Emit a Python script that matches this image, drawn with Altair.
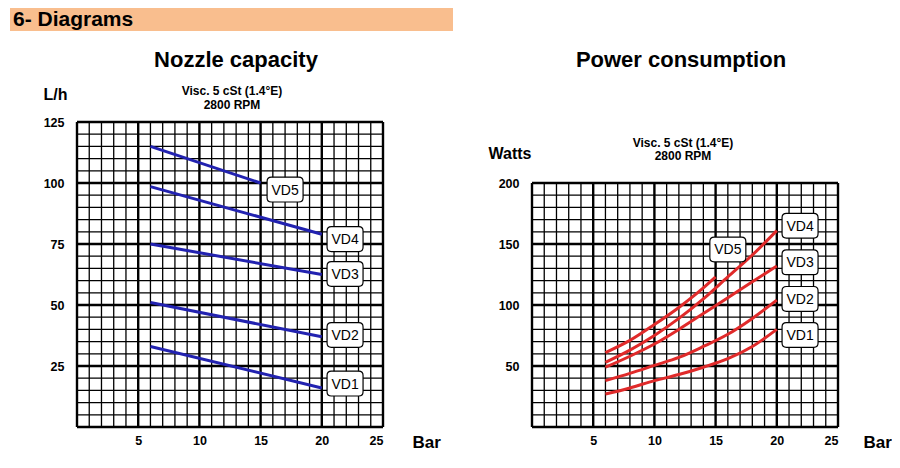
import altair as alt
import pandas as pd

FONT = "Liberation Sans"
BLUE = "#2222B0"
RED = "#E02A2A"
HEADER_FILL = "#F9BE8E"

# ---------------- grid / tick values ----------------
bar_grid = list(range(0, 26))            # 1 bar minor grid
lh_grid = list(range(0, 130, 5))         # 5 L/h minor grid
w_grid = list(range(0, 210, 10))         # 10 W minor grid
bar_labels = [5, 10, 15, 20, 25]
lh_labels = [25, 50, 75, 100, 125]
w_labels = [50, 100, 150, 200]

# ---------------- Nozzle capacity (L/h vs Bar) ----------------
noz_vd1_bar = [6, 20]
noz_vd1_lh = [33, 16]
noz_vd2_bar = [6, 20]
noz_vd2_lh = [51, 37]
noz_vd3_bar = [6, 20]
noz_vd3_lh = [75, 62.5]
noz_vd4_bar = [6, 20]
noz_vd4_lh = [98.5, 79]
noz_vd5_bar = [6, 15]
noz_vd5_lh = [115, 100]

noz_label_names = ["VD1", "VD2", "VD3", "VD4", "VD5"]
noz_label_bar = [21.9, 21.9, 21.9, 21.9, 17.0]
noz_label_lh = [17.8, 37.7, 62.7, 77.0, 97.3]

# ---------------- Power consumption (Watts vs Bar) ----------------
pow_vd1_bar = [6, 8, 10, 12, 14, 16, 18, 20]
pow_vd1_w = [27, 32, 38, 43, 49, 56, 66, 80]
pow_vd2_bar = [6, 8, 10, 12, 14, 16, 18, 20]
pow_vd2_w = [38, 44, 50.5, 57, 66, 76, 89, 104]
pow_vd3_bar = [6, 8, 10, 12, 14, 16, 18, 20]
pow_vd3_w = [49, 58, 68, 80, 93, 106, 119, 132]
pow_vd4_bar = [6, 8, 10, 12, 14, 16, 18, 20]
pow_vd4_w = [53, 63, 75, 89, 105, 123, 141, 161]
pow_vd5_bar = [6, 8, 10, 12, 14, 15]
pow_vd5_w = [61, 71, 84, 98, 114, 123]

pow_label_names = ["VD1", "VD2", "VD3", "VD4", "VD5"]
pow_label_bar = [21.9, 21.9, 21.9, 21.9, 16.0]
pow_label_w = [75.4, 105, 135, 165, 145.5]


def series_frame(items):
    frames = [pd.DataFrame({"series": name, "bar": b, "val": v}) for name, b, v in items]
    return pd.concat(frames, ignore_index=True)


noz_df = series_frame([
    ("VD1", noz_vd1_bar, noz_vd1_lh), ("VD2", noz_vd2_bar, noz_vd2_lh),
    ("VD3", noz_vd3_bar, noz_vd3_lh), ("VD4", noz_vd4_bar, noz_vd4_lh),
    ("VD5", noz_vd5_bar, noz_vd5_lh)])
pow_df = series_frame([
    ("VD1", pow_vd1_bar, pow_vd1_w), ("VD2", pow_vd2_bar, pow_vd2_w),
    ("VD3", pow_vd3_bar, pow_vd3_w), ("VD4", pow_vd4_bar, pow_vd4_w),
    ("VD5", pow_vd5_bar, pow_vd5_w)])
noz_lab = pd.DataFrame({"label": noz_label_names, "bar": noz_label_bar, "val": noz_label_lh})
pow_lab = pd.DataFrame({"label": pow_label_names, "bar": pow_label_bar, "val": pow_label_w})

# rounded box symbol (path in [-1, 1] square)
BOX = ("M -0.76,-0.69 L 0.76,-0.69 Q 1,-0.69 1,-0.45 L 1,0.45 Q 1,0.69 0.76,0.69 "
       "L -0.76,0.69 Q -1,0.69 -1,0.45 L -1,-0.45 Q -1,-0.69 -0.76,-0.69 Z")

one = pd.DataFrame({"k": [0]})
sw_scale = alt.Scale(domain=["minor", "major"], range=[1.3, 2.4])
xs = alt.Scale(domain=[0, 25], nice=False, zero=True)


def text_layer(txt, x, y, size, weight="bold", align="left"):
    return alt.Chart(one).mark_text(
        font=FONT, fontSize=size, fontWeight=weight, align=align,
        baseline="alphabetic", color="black"
    ).encode(x=alt.value(x), y=alt.value(y), text=alt.value(txt))


def panel(lines_df, color, interp, lab_df, ys, gy, gy_major, gy_max, yvals,
          ytitle, ytx, yty, bar_x, extra):
    vert = pd.DataFrame({"bar": bar_grid})
    vert["val"] = 0
    vert["val2"] = gy_max
    vert["kind"] = ["major" if b % 5 == 0 else "minor" for b in bar_grid]
    horiz = pd.DataFrame({"val": gy})
    horiz["bar"] = 0
    horiz["bar2"] = 25
    horiz["kind"] = ["major" if v % gy_major == 0 else "minor" for v in gy]

    xaxis = alt.Axis(values=bar_labels, title="Bar", titleX=bar_x, titleY=20,
                     titleAlign="left", titleBaseline="alphabetic", titleAngle=0,
                     titleFont=FONT, titleFontSize=17, titleFontWeight="bold",
                     titleColor="black", labelFont=FONT, labelFontSize=12.5,
                     labelFontWeight="bold", labelColor="black", labelPadding=7,
                     domain=False, ticks=False, tickSize=0, grid=False)
    yaxis = alt.Axis(values=yvals, title=ytitle, titleX=ytx, titleY=yty,
                     titleAlign="left", titleBaseline="alphabetic", titleAngle=0,
                     titleFont=FONT, titleFontSize=16, titleFontWeight="bold",
                     titleColor="black", labelFont=FONT, labelFontSize=12.5,
                     labelFontWeight="bold", labelColor="black", labelPadding=13,
                     domain=False, ticks=False, tickSize=0, grid=False)

    X = alt.X("bar:Q", scale=xs, axis=xaxis, title="Bar")
    Y = alt.Y("val:Q", scale=ys, axis=yaxis, title=ytitle)

    g_v = alt.Chart(vert).mark_rule(color="black").encode(
        x=X, y=Y, y2="val2:Q",
        strokeWidth=alt.StrokeWidth("kind:N", scale=sw_scale, legend=None))
    g_h = alt.Chart(horiz).mark_rule(color="black").encode(
        x=X, x2="bar2:Q", y=Y,
        strokeWidth=alt.StrokeWidth("kind:N", scale=sw_scale, legend=None))
    lines = alt.Chart(lines_df).mark_line(color=color, strokeWidth=3, interpolate=interp).encode(
        x=X, y=Y, detail="series:N")
    boxes = alt.Chart(lab_df).mark_point(
        shape=BOX, size=1296, filled=True, fill="white", stroke="black",
        strokeWidth=1.2, opacity=1, fillOpacity=1, strokeOpacity=1).encode(x=X, y=Y)
    labels = alt.Chart(lab_df).mark_text(font=FONT, fontSize=14, color="black",
                                         align="center", baseline="middle", dy=1).encode(
        x=X, y=Y, text="label:N")
    return alt.layer(g_v, g_h, lines, boxes, labels, *extra).properties(width=306, height=305)


header_rect = alt.Chart(one).mark_rect(color=HEADER_FILL).encode(
    x=alt.value(-67), x2=alt.value(376), y=alt.value(-114), y2=alt.value(-91))

left_extra = [
    header_rect,
    text_layer("6- Diagrams", -64, -96, 21),
    text_layer("Nozzle capacity", 159, -55, 22, align="center"),
    text_layer("Visc. 5 cSt (1.4°E)", 155, -27, 12, align="center"),
    text_layer("2800 RPM", 155, -13, 12, align="center"),
]
right_extra = [
    text_layer("Power consumption", 149, -55, 22, align="center"),
    text_layer("Visc. 5 cSt (1.4°E)", 151, 25, 12, align="center"),
    text_layer("2800 RPM", 151, 38, 12, align="center"),
]

left = panel(noz_df, BLUE, "linear", noz_lab,
             alt.Scale(domain=[0, 125], nice=False, zero=True),
             lh_grid, 25, 125, lh_labels, "L/h", -34, -23, 335, left_extra)
right = panel(pow_df, RED, "monotone", pow_lab,
              alt.Scale(domain=[0, 250], nice=False, zero=True),
              w_grid, 50, 200, w_labels, "Watts", -44, 36, 331, right_extra)

chart = alt.hconcat(left, right, spacing=35).properties(
    padding={"left": 2, "top": 0, "right": 0, "bottom": 0}
).configure_view(stroke=None)

chart.save("out.html", embed_options={"renderer": "svg", "actions": False})
